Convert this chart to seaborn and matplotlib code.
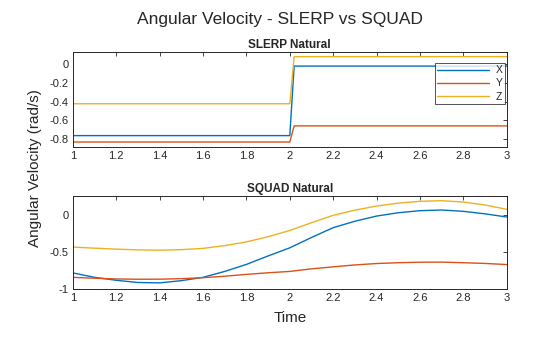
import numpy as np
import pandas as pd
import matplotlib
matplotlib.use("Agg")
import matplotlib.pyplot as plt
import seaborn as sns
from matplotlib.ticker import FuncFormatter

# SLERP: piecewise-constant rates with a short ramp at t = 2
slerp_t = [1.0, 2.0, 2.02, 3.0]
slerp_x = [-0.768, -0.768, -0.018, -0.018]
slerp_y = [-0.837, -0.837, -0.663, -0.663]
slerp_z = [-0.424, -0.424, 0.084, 0.084]

# SQUAD: smooth rates
squad_t = [1.0, 1.1, 1.2, 1.3, 1.4, 1.5, 1.6, 1.7, 1.8, 1.9, 2.0,
           2.1, 2.2, 2.3, 2.4, 2.5, 2.6, 2.7, 2.8, 2.9, 3.0]
squad_x = [-0.78, -0.84, -0.88, -0.91, -0.915, -0.885, -0.84, -0.76, -0.665, -0.55, -0.44,
           -0.30, -0.167, -0.08, -0.01, 0.035, 0.063, 0.072, 0.054, 0.02, -0.023]
squad_y = [-0.84, -0.852, -0.862, -0.866, -0.865, -0.858, -0.845, -0.825, -0.80, -0.778, -0.76,
           -0.725, -0.698, -0.672, -0.653, -0.642, -0.635, -0.634, -0.642, -0.652, -0.667]
squad_z = [-0.43, -0.445, -0.458, -0.468, -0.472, -0.465, -0.448, -0.41, -0.36, -0.29, -0.205,
           -0.10, 0.0, 0.07, 0.126, 0.165, 0.19, 0.198, 0.18, 0.14, 0.081]

components = ["X", "Y", "Z"]
colors = ["#0072BD", "#D95319", "#EDB120"]
x_ticks = [1, 1.2, 1.4, 1.6, 1.8, 2, 2.2, 2.4, 2.6, 2.8, 3]
top_yticks = [0, -0.2, -0.4, -0.6, -0.8]
bottom_yticks = [0, -0.5, -1]


def to_long(t, x, y, z):
    frames = []
    for name, vals in zip(components, [x, y, z]):
        frames.append(pd.DataFrame({"t": t, "w": vals, "axis": name}))
    return pd.concat(frames, ignore_index=True)


sns.set_style("white")
plt.rcParams["font.family"] = ["Liberation Sans", "DejaVu Sans"]
plt.rcParams["axes.unicode_minus"] = False

edge = "#262626"
fig = plt.figure(figsize=(5.6, 3.37), dpi=100)
ax1 = fig.add_axes([0.130, 0.564, 0.775, 0.282])
ax2 = fig.add_axes([0.130, 0.142, 0.775, 0.276])

fmt = FuncFormatter(lambda v, p: ("%g" % round(v, 3)))

sns.lineplot(data=to_long(slerp_t, slerp_x, slerp_y, slerp_z), x="t", y="w",
             hue="axis", palette=colors, linewidth=1.0, ax=ax1, sort=False)
sns.lineplot(data=to_long(squad_t, squad_x, squad_y, squad_z), x="t", y="w",
             hue="axis", palette=colors, linewidth=1.0, ax=ax2, legend=False)

ax1.set_ylim(-0.89, 0.135)
ax1.set_yticks(top_yticks)
ax2.set_ylim(-1, 0.26)
ax2.set_yticks(bottom_yticks)

for ax in (ax1, ax2):
    ax.set_xlim(1, 3)
    ax.set_xticks(x_ticks)
    ax.xaxis.set_major_formatter(fmt)
    ax.yaxis.set_major_formatter(fmt)
    ax.tick_params(direction="in", length=3, width=0.6, top=True, right=True,
                   labelsize=8, colors=edge, pad=3)
    for s in ax.spines.values():
        s.set_color(edge)
        s.set_linewidth(0.7)
    ax.set_xlabel("")
    ax.set_ylabel("")

ax1.set_title("SLERP Natural", fontsize=8.5, fontweight="bold", color=edge, pad=3)
ax2.set_title("SQUAD Natural", fontsize=8.5, fontweight="bold", color=edge, pad=3)

leg = ax1.legend(loc="upper right", bbox_to_anchor=(0.996, 0.886), fontsize=7.5,
                 frameon=True, fancybox=False, handlelength=5.0, handletextpad=0.6,
                 borderpad=0.25, labelspacing=0.3, borderaxespad=0.0)
leg.get_frame().set_edgecolor(edge)
leg.get_frame().set_linewidth(0.7)
for txt in leg.get_texts():
    txt.set_color(edge)

fig.suptitle("Angular Velocity - SLERP vs SQUAD", fontsize=12.5, color=edge, y=0.965)
fig.text(0.062, 0.50, "Angular Velocity (rad/s)", rotation=90, ha="center", va="center",
         fontsize=11, color=edge)
fig.text(0.518, 0.055, "Time", ha="center", va="center", fontsize=11, color=edge)

fig.savefig("out.png", dpi=100)
